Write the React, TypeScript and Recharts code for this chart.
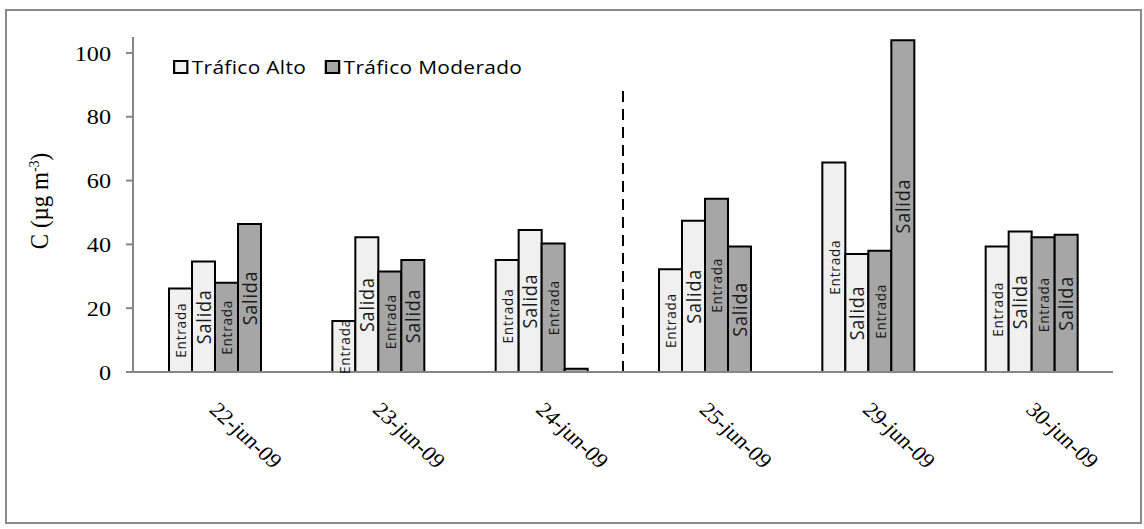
import { Bar, BarChart, LabelList, Legend, ReferenceLine, XAxis, YAxis } from "recharts";

const days = ["22-jun-09", "23-jun-09", "24-jun-09", "25-jun-09", "29-jun-09", "30-jun-09"];
const altoEntrada = [26.2, 16.0, 35.1, 32.2, 65.7, 39.3];
const altoSalida = [34.6, 42.2, 44.5, 47.4, 37.0, 44.0];
const modEntrada = [28.0, 31.5, 40.3, 54.3, 38.0, 42.2];
const modSalida = [46.4, 35.1, 1.0, 39.3, 104.0, 43.0];
const yTicks = [0, 20, 40, 60, 80, 100];

const LIGHT = "#f0f0f0";
const DARK = "#a6a6a6";
const AXIS = "#868686";
const SERIF = "'Liberation Serif', 'Times New Roman', serif";
const SANS = "'Open Sans', 'Noto Sans', sans-serif";
// the original picture is a little stretched sideways
const SX = 1.1;

const data = days.map((d, i) => ({
  day: d,
  altoEntrada: altoEntrada[i],
  altoSalida: altoSalida[i],
  modEntrada: modEntrada[i],
  modSalida: modSalida[i],
}));

function DayTick({ x, y, payload }: any) {
  return (
    <text
      transform={`translate(${x - 6.5},${y + 39}) scale(${SX},1) rotate(45)`}
      textAnchor="start"
      style={{ fontFamily: SERIF, fontSize: 21 }}
      fill="#000"
    >
      {payload.value}
    </text>
  );
}

function ValueTick({ x, y, payload }: any) {
  return (
    <text
      transform={`translate(${x},${y}) scale(${SX},1)`}
      textAnchor="end"
      dy="0.35em"
      style={{ fontFamily: SERIF, fontSize: 22 }}
      fill="#000"
    >
      {payload.value}
    </text>
  );
}

function barLabel(text: string, size: number, spacing: number) {
  return (props: any) => {
    const { x, y, width, height } = props;
    if (height < 10) return null;
    const cx = x + width / 2;
    const cy = y + height / 2;
    return (
      <text
        transform={`translate(${cx},${cy}) scale(${SX},1) rotate(-90)`}
        textAnchor="middle"
        dominantBaseline="central"
        style={{ fontFamily: SANS, fontSize: size, letterSpacing: spacing }}
        fill="#1a1a1a"
      >
        {text}
      </text>
    );
  };
}

function LegendBox() {
  const items = [
    { name: "Tráfico Alto", color: LIGHT },
    { name: "Tráfico Moderado", color: DARK },
  ];
  return (
    <div
      style={{
        display: "flex",
        alignItems: "center",
        fontFamily: SANS,
        fontSize: 19,
        letterSpacing: 0.3,
        lineHeight: "20px",
        color: "#000",
        transform: `scaleX(${SX})`,
        transformOrigin: "left center",
        whiteSpace: "nowrap",
      }}
    >
      {items.map((it) => (
        <div key={it.name} style={{ display: "flex", alignItems: "center", marginRight: 17 }}>
          <span
            style={{
              width: 14,
              height: 14,
              boxSizing: "border-box",
              background: it.color,
              border: "2px solid #000",
              marginRight: 3,
              display: "inline-block",
            }}
          />
          <span>{it.name}</span>
        </div>
      ))}
    </div>
  );
}

function YTitle() {
  return (
    <text
      transform={`translate(48,201) scale(${SX},1) rotate(-90)`}
      textAnchor="middle"
      style={{ fontFamily: SERIF, fontSize: 23 }}
      fill="#000"
    >
      C (µg m
      <tspan dy={-8} style={{ fontSize: 14 }}>
        -3
      </tspan>
      <tspan dy={8}>)</tspan>
    </text>
  );
}

export default function App() {
  return (
    <div style={{ position: "absolute", left: 0, top: 0, width: 1144, height: 529, background: "#fff" }}>
      <div
        style={{
          position: "absolute",
          left: 5,
          top: 9,
          width: 1133,
          height: 511,
          border: "2px solid #8a8a8a",
        }}
      />
      <BarChart
        width={1144}
        height={529}
        data={data}
        barGap={0}
        margin={{ top: 37, right: 31, left: 0, bottom: 0 }}
        style={{ position: "absolute", left: 0, top: 0 }}
      >
        <XAxis
          dataKey="day"
          interval={0}
          height={157}
          tickLine={false}
          tickSize={0}
          tickMargin={0}
          axisLine={{ stroke: AXIS, strokeWidth: 2 }}
          tick={<DayTick />}
        />
        <YAxis
          width={133}
          domain={[0, 105]}
          ticks={yTicks}
          interval={0}
          tickSize={7}
          tickMargin={15}
          axisLine={{ stroke: AXIS, strokeWidth: 2 }}
          tickLine={{ stroke: AXIS, strokeWidth: 2 }}
          tick={<ValueTick />}
          label={{ content: <YTitle /> }}
        />
        <Legend
          layout="vertical"
          align="center"
          verticalAlign="middle"
          wrapperStyle={{ position: "absolute", left: 173, top: 57, width: "auto" }}
          content={<LegendBox />}
        />
        <ReferenceLine
          segment={[
            { x: days[3], y: 0 },
            { x: days[3], y: 89.5 },
          ]}
          position="start"
          stroke="#000"
          strokeWidth={2}
          strokeDasharray="11 7"
        />
        <Bar dataKey="altoEntrada" barSize={23} fill={LIGHT} stroke="#000" strokeWidth={2} isAnimationActive={false}>
          <LabelList dataKey="altoEntrada" content={barLabel("Entrada", 13.5, 0.8)} />
        </Bar>
        <Bar dataKey="altoSalida" barSize={23} fill={LIGHT} stroke="#000" strokeWidth={2} isAnimationActive={false}>
          <LabelList dataKey="altoSalida" content={barLabel("Salida", 18, 0.8)} />
        </Bar>
        <Bar dataKey="modEntrada" barSize={23} fill={DARK} stroke="#000" strokeWidth={2} isAnimationActive={false}>
          <LabelList dataKey="modEntrada" content={barLabel("Entrada", 13.5, 0.8)} />
        </Bar>
        <Bar dataKey="modSalida" barSize={23} fill={DARK} stroke="#000" strokeWidth={2} isAnimationActive={false}>
          <LabelList dataKey="modSalida" content={barLabel("Salida", 18, 0.8)} />
        </Bar>
      </BarChart>
    </div>
  );
}
